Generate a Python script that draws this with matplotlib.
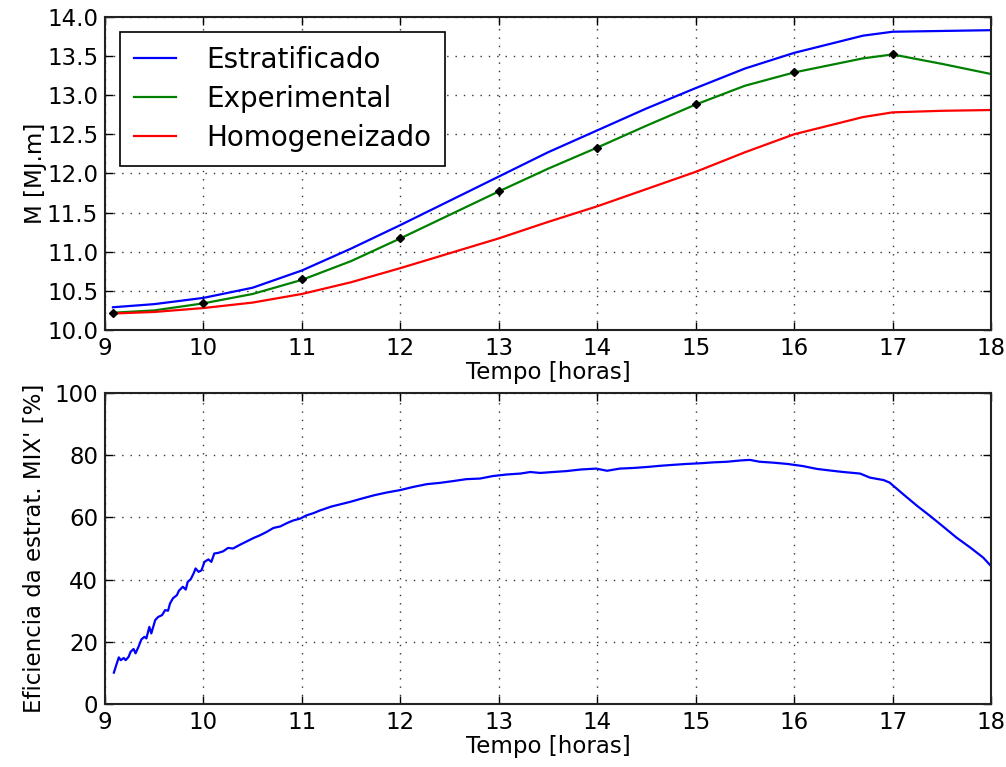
import numpy as np
import matplotlib
matplotlib.use('Agg')
import matplotlib.pyplot as plt
from matplotlib.ticker import FormatStrFormatter

# top panel - curves read at half-hour steps
t_top = [9.08, 9.5, 10, 10.5, 11, 11.5, 12, 12.5, 13, 13.5, 14, 14.5, 15, 15.5, 16, 16.7, 17, 17.5, 18]
estratificado = [10.29, 10.33, 10.41, 10.54, 10.76, 11.04, 11.34, 11.65, 11.96, 12.27, 12.55, 12.83,
                 13.09, 13.34, 13.54, 13.76, 13.81, 13.82, 13.83]
experimental = [10.22, 10.25, 10.34, 10.46, 10.64, 10.88, 11.17, 11.47, 11.77, 12.06, 12.33, 12.61,
                12.88, 13.12, 13.29, 13.47, 13.52, 13.40, 13.27]
homogeneizado = [10.21, 10.23, 10.28, 10.35, 10.46, 10.61, 10.79, 10.98, 11.17, 11.38, 11.58, 11.80,
                 12.02, 12.27, 12.50, 12.72, 12.78, 12.80, 12.81]

# measured points (black diamonds)
t_exp = [9.08, 10, 11, 12, 13, 14, 15, 16, 17]
m_exp = [10.22, 10.34, 10.65, 11.17, 11.78, 12.33, 12.89, 13.30, 13.52]

# bottom panel - efficiency trace
t_eff = [9.09, 9.12, 9.14, 9.16, 9.19, 9.21, 9.24, 9.26, 9.29, 9.31, 9.34, 9.37, 9.40, 9.42,
         9.45, 9.47, 9.51, 9.54, 9.58, 9.61, 9.64, 9.66, 9.69, 9.73, 9.75, 9.79, 9.82, 9.84,
         9.87, 9.90, 9.92, 9.95, 9.98, 10.01, 10.05, 10.08, 10.11, 10.15, 10.20, 10.25, 10.30,
         10.37, 10.44, 10.51, 10.57, 10.64, 10.71, 10.78, 10.85, 10.91, 10.98, 11.05, 11.12,
         11.18, 11.30, 11.49, 11.59, 11.73, 11.86, 12.00, 12.13, 12.27, 12.40, 12.54, 12.67,
         12.81, 12.94, 13.08, 13.22, 13.32, 13.42, 13.55, 13.69, 13.83, 13.99, 14.10, 14.23,
         14.37, 14.50, 14.64, 14.77, 14.91, 15.04, 15.18, 15.32, 15.45, 15.55, 15.65, 15.79,
         15.93, 16.09, 16.23, 16.36, 16.50, 16.67, 16.77, 16.91, 16.97, 17.11, 17.25, 17.38,
         17.52, 17.65, 17.79, 17.92, 17.99]
eficiencia = [10.1, 13.1, 15.0, 14.1, 14.8, 14.1, 15.2, 16.8, 17.7, 16.3, 18.4, 20.8, 21.6, 21.1,
              24.8, 22.7, 27.0, 28.0, 28.6, 30.2, 30.0, 32.3, 34.0, 35.0, 36.4, 37.7, 36.8, 39.3,
              40.1, 42.0, 43.6, 42.5, 43.0, 45.7, 46.5, 45.7, 48.4, 48.6, 49.1, 50.2, 50.0,
              51.2, 52.3, 53.4, 54.2, 55.3, 56.6, 57.1, 58.2, 59.0, 59.6, 60.7, 61.4,
              62.2, 63.5, 65.0, 65.9, 67.1, 68.0, 68.8, 69.8, 70.7, 71.1, 71.7, 72.3,
              72.5, 73.3, 73.8, 74.1, 74.6, 74.3, 74.6, 74.9, 75.4, 75.7, 75.0, 75.7,
              75.9, 76.2, 76.6, 76.9, 77.2, 77.4, 77.7, 77.9, 78.3, 78.5, 77.9, 77.6,
              77.2, 76.5, 75.6, 75.1, 74.6, 74.1, 72.8, 72.0, 71.2, 67.4, 63.7, 60.5,
              56.9, 53.5, 50.3, 47.1, 44.7]

plt.rcParams['font.family'] = 'DejaVu Sans'
plt.rcParams['font.size'] = 16

fig = plt.figure(figsize=(10.06, 7.67), dpi=100)
ax1 = fig.add_axes([0.1044, 0.5698, 0.8807, 0.4082])
ax2 = fig.add_axes([0.1044, 0.0821, 0.8807, 0.4055])


def style_axes(ax):
    ax.grid(True, color='#333333', linestyle=(0, (1, 5)), linewidth=1.0)
    ax.tick_params(direction='in', top=True, right=True, length=6, width=1,
                   labelsize=16.5, pad=5)
    for s in ax.spines.values():
        s.set_linewidth(1.5)
        s.set_color('#222222')


ax1.plot(t_top, estratificado, color='#0000ff', lw=1.6, label='Estratificado')
ax1.plot(t_top, experimental, color='#008000', lw=1.6, label='Experimental')
ax1.plot(t_top, homogeneizado, color='#ff0000', lw=1.6, label='Homogeneizado')
ax1.plot(t_exp, m_exp, linestyle='none', marker='D', markersize=4, color='black')
ax1.set_xlim(9, 18)
ax1.set_ylim(10, 14)
ax1.set_yticks(np.arange(10, 14.01, 0.5))
ax1.yaxis.set_major_formatter(FormatStrFormatter('%.1f'))
ax1.set_xlabel('Tempo [horas]', fontsize=16.5, labelpad=1)
ax1.set_ylabel('M [MJ.m]', fontsize=16.5, labelpad=0)
style_axes(ax1)
leg = ax1.legend(loc='upper left', bbox_to_anchor=(15 / 886, 1 - 15 / 313),
                 borderaxespad=0, fancybox=False, framealpha=1, fontsize=20,
                 handlelength=1.5, handletextpad=1.1, labelspacing=0.4,
                 borderpad=0.5)
leg.get_frame().set_edgecolor('black')
leg.get_frame().set_linewidth(1.2)

ax2.plot(t_eff, eficiencia, color='#0000ff', lw=1.6)
ax2.set_xlim(9, 18)
ax2.set_ylim(0, 100)
ax2.set_yticks(np.arange(0, 101, 20))
ax2.set_xlabel('Tempo [horas]', fontsize=16.5, labelpad=1)
ax2.set_ylabel("Eficiencia da estrat. MIX' [%]", fontsize=16.5, labelpad=6)
style_axes(ax2)

fig.savefig('out.png', dpi=100, facecolor='white')
